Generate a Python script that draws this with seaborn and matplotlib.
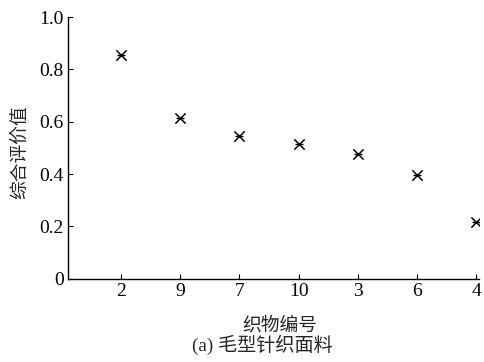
import matplotlib
matplotlib.use("Agg")
import matplotlib.pyplot as plt
import seaborn as sns
import pandas as pd

categories = ["2", "9", "7", "10", "3", "6", "4"]
values = [0.853, 0.614, 0.544, 0.513, 0.475, 0.397, 0.217]
yticks = [0, 0.2, 0.4, 0.6, 0.8, 1.0]
ytick_labels = ["0", "0.2", "0.4", "0.6", "0.8", "1.0"]

sns.set_style("ticks")
plt.rcParams["font.family"] = ["Liberation Serif", "Noto Sans CJK SC"]
plt.rcParams["xtick.direction"] = "in"
plt.rcParams["ytick.direction"] = "in"

df = pd.DataFrame({"fabric": categories, "score": values})

fig = plt.figure(figsize=(4.84, 3.62), dpi=100)
ax = fig.add_axes([68 / 484, 1 - 278.7 / 362, (479 - 68) / 484, (278.7 - 17) / 362])

sns.scatterplot(data=df, x="fabric", y="score", marker="x", s=55, color="black",
                linewidth=1.1, ax=ax, legend=False)
sns.scatterplot(data=df, x="fabric", y="score", marker="_", s=30, color="black",
                linewidth=1.0, ax=ax, legend=False)

ax.set_xlim(-0.9, 6.05)
ax.set_ylim(0, 1.0)
ax.set_yticks(yticks)
ax.set_yticklabels(ytick_labels)
ax.tick_params(axis="both", labelsize=14, length=3.5, width=0.8, colors="black", pad=3)
for s in ["top", "right"]:
    ax.spines[s].set_visible(False)
for s in ["left", "bottom"]:
    ax.spines[s].set_linewidth(1.0)
    ax.spines[s].set_color("black")

ax.set_xlabel("")
ax.set_ylabel("")
fig.text(20 / 484, 1 - 152 / 362, "综合评价值", rotation=90, ha="center", va="center",
         fontsize=13.5, family=["Noto Sans CJK SC"])
fig.text(280 / 484, 1 - 325 / 362, "织物编号", ha="center", va="center",
         fontsize=13.5, family=["Noto Sans CJK SC"])
fig.text(262 / 484, 1 - 345 / 362, "(a) 毛型针织面料", ha="center", va="center",
         fontsize=13.8, family=["Liberation Serif", "Noto Sans CJK SC"])

fig.savefig("out.png", dpi=100)
